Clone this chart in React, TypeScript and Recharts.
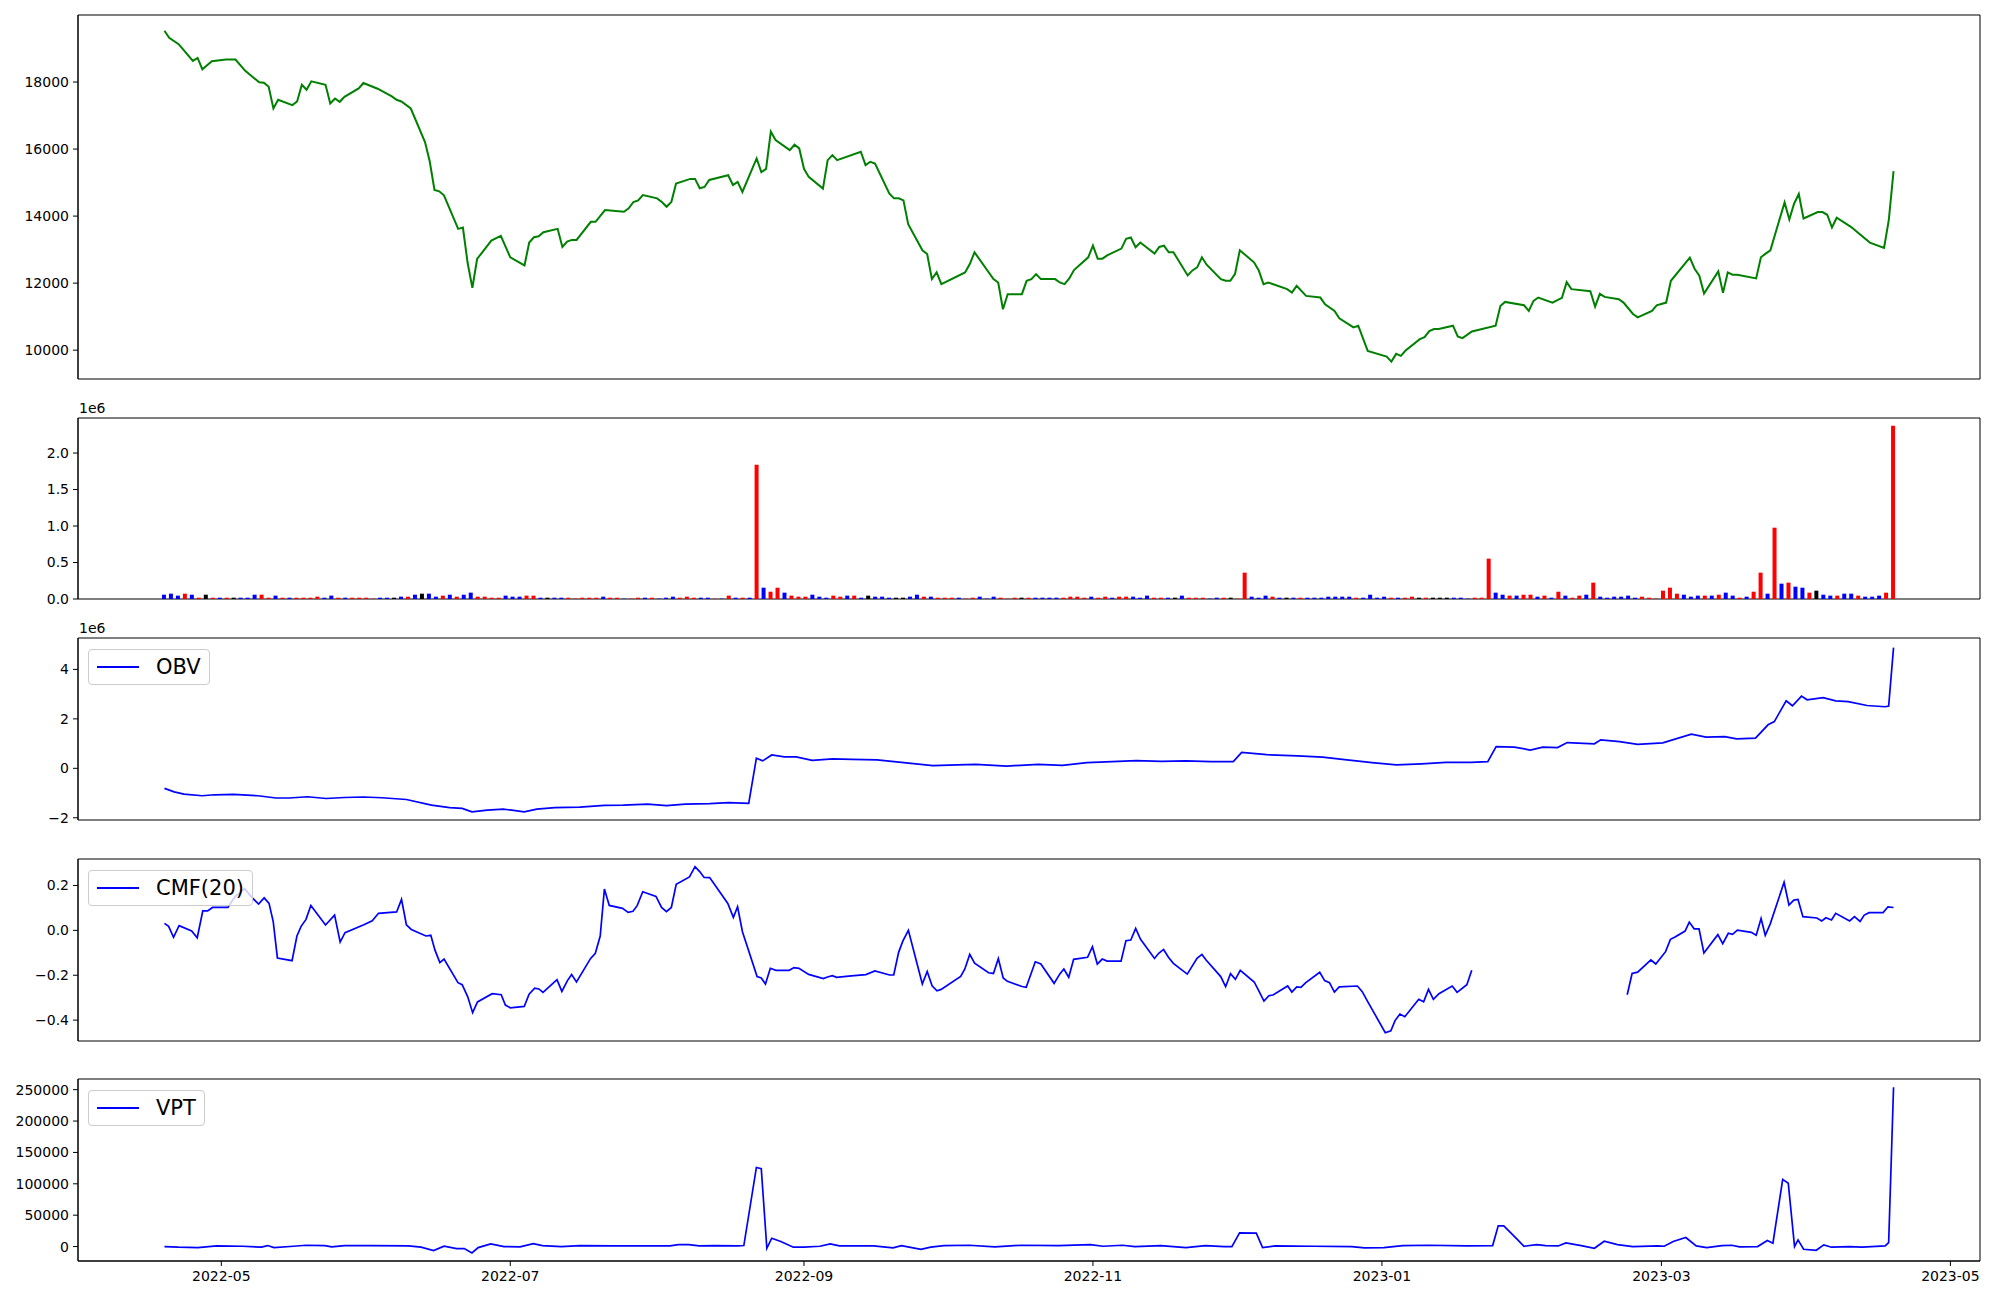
import React from 'react';
import { ComposedChart, Line, Bar, Cell, XAxis, YAxis, Legend, ReferenceArea } from 'recharts';

// closing prices (trading days where the line turns)
const priceDates = [
  '2022-04-19', '2022-04-20', '2022-04-22', '2022-04-25', '2022-04-26', '2022-04-27', '2022-04-29', '2022-05-02', '2022-05-04', '2022-05-06',
  '2022-05-09', '2022-05-10', '2022-05-11', '2022-05-12', '2022-05-13', '2022-05-16', '2022-05-17', '2022-05-18', '2022-05-19', '2022-05-20',
  '2022-05-23', '2022-05-24', '2022-05-25', '2022-05-26', '2022-05-27', '2022-05-30', '2022-05-31', '2022-06-03', '2022-06-06', '2022-06-07',
  '2022-06-08', '2022-06-10', '2022-06-13', '2022-06-14', '2022-06-15', '2022-06-16', '2022-06-17', '2022-06-20', '2022-06-21', '2022-06-22',
  '2022-06-23', '2022-06-24', '2022-06-27', '2022-06-29', '2022-07-01', '2022-07-04', '2022-07-05', '2022-07-06', '2022-07-07', '2022-07-08',
  '2022-07-11', '2022-07-12', '2022-07-13', '2022-07-14', '2022-07-15', '2022-07-18', '2022-07-19', '2022-07-21', '2022-07-25', '2022-07-26',
  '2022-07-27', '2022-07-28', '2022-07-29', '2022-08-01', '2022-08-02', '2022-08-03', '2022-08-04', '2022-08-05', '2022-08-08', '2022-08-09',
  '2022-08-10', '2022-08-11', '2022-08-12', '2022-08-16', '2022-08-17', '2022-08-18', '2022-08-19', '2022-08-22', '2022-08-23', '2022-08-24',
  '2022-08-25', '2022-08-26', '2022-08-29', '2022-08-30', '2022-08-31', '2022-09-01', '2022-09-02', '2022-09-05', '2022-09-06', '2022-09-07',
  '2022-09-08', '2022-09-13', '2022-09-14', '2022-09-15', '2022-09-16', '2022-09-19', '2022-09-20', '2022-09-21', '2022-09-22', '2022-09-23',
  '2022-09-26', '2022-09-27', '2022-09-28', '2022-09-29', '2022-09-30', '2022-10-05', '2022-10-06', '2022-10-07', '2022-10-11', '2022-10-12',
  '2022-10-13', '2022-10-14', '2022-10-17', '2022-10-18', '2022-10-19', '2022-10-20', '2022-10-21', '2022-10-24', '2022-10-25', '2022-10-26',
  '2022-10-27', '2022-10-28', '2022-10-31', '2022-11-01', '2022-11-02', '2022-11-03', '2022-11-04', '2022-11-07', '2022-11-08', '2022-11-09',
  '2022-11-10', '2022-11-11', '2022-11-14', '2022-11-15', '2022-11-16', '2022-11-17', '2022-11-18', '2022-11-21', '2022-11-22', '2022-11-23',
  '2022-11-24', '2022-11-25', '2022-11-28', '2022-11-29', '2022-11-30', '2022-12-01', '2022-12-02', '2022-12-05', '2022-12-06', '2022-12-07',
  '2022-12-08', '2022-12-12', '2022-12-13', '2022-12-14', '2022-12-16', '2022-12-19', '2022-12-20', '2022-12-22', '2022-12-23', '2022-12-26',
  '2022-12-27', '2022-12-29', '2023-01-02', '2023-01-03', '2023-01-04', '2023-01-05', '2023-01-06', '2023-01-09', '2023-01-10', '2023-01-11',
  '2023-01-12', '2023-01-13', '2023-01-16', '2023-01-17', '2023-01-18', '2023-01-20', '2023-01-25', '2023-01-26', '2023-01-27', '2023-01-31',
  '2023-02-01', '2023-02-02', '2023-02-03', '2023-02-06', '2023-02-08', '2023-02-09', '2023-02-10', '2023-02-14', '2023-02-15', '2023-02-16',
  '2023-02-17', '2023-02-20', '2023-02-21', '2023-02-23', '2023-02-24', '2023-02-27', '2023-02-28', '2023-03-02', '2023-03-03', '2023-03-07',
  '2023-03-08', '2023-03-09', '2023-03-10', '2023-03-13', '2023-03-14', '2023-03-15', '2023-03-16', '2023-03-17', '2023-03-21', '2023-03-22',
  '2023-03-23', '2023-03-24', '2023-03-27', '2023-03-28', '2023-03-29', '2023-03-30', '2023-03-31', '2023-04-03', '2023-04-04', '2023-04-05',
  '2023-04-06', '2023-04-07', '2023-04-10', '2023-04-14', '2023-04-17', '2023-04-18', '2023-04-19',
];

const priceClose = [
  19530, 19320, 19130, 18630, 18720, 18380, 18620, 18670, 18670, 18340,
  17990, 17980, 17860, 17210, 17470, 17310, 17420, 17920, 17770, 18020,
  17920, 17360, 17510, 17410, 17560, 17810, 17970, 17800, 17570, 17470,
  17420, 17210, 16210, 15630, 14780, 14740, 14620, 13620, 13660, 12600,
  11860, 12720, 13270, 13410, 12770, 12530, 13210, 13370, 13400, 13520,
  13620, 13080, 13240, 13290, 13290, 13830, 13830, 14180, 14130, 14230,
  14420, 14470, 14630, 14530, 14420, 14280, 14420, 14970, 15110, 15110,
  14830, 14870, 15080, 15220, 14930, 15020, 14720, 15720, 15310, 15410,
  16520, 16270, 15970, 16130, 16020, 15410, 15170, 14820, 15670, 15820,
  15670, 15920, 15520, 15620, 15570, 14680, 14530, 14530, 14470, 13760,
  12980, 12870, 12120, 12320, 11970, 12320, 12570, 12920, 12120, 12020,
  11220, 11670, 11670, 12070, 12120, 12270, 12120, 12120, 12020, 11970,
  12140, 12390, 12770, 13120, 12730, 12730, 12830, 13030, 13320, 13360,
  13070, 13210, 12880, 13080, 13120, 12920, 12920, 12230, 12380, 12470,
  12770, 12550, 12120, 12070, 12070, 12280, 12980, 12620, 12380, 11970,
  12020, 11820, 11720, 11920, 11620, 11570, 11370, 11170, 10950, 10680,
  10730, 9980, 9810, 9660, 9890, 9830, 9990, 10330, 10390, 10570,
  10630, 10630, 10730, 10410, 10360, 10560, 10730, 11320, 11440, 11340,
  11170, 11470, 11570, 11420, 11560, 12030, 11820, 11760, 11300, 11680,
  11590, 11520, 11420, 11080, 10980, 11170, 11340, 11420, 12070, 12760,
  12430, 12220, 11690, 12350, 11710, 12320, 12250, 12250, 12140, 12770,
  12880, 12980, 14410, 13900, 14370, 14660, 13930, 14120, 14120, 14040,
  13660, 13950, 13680, 13210, 13050, 13890, 15340,
];

// daily volume, one bar per trading day
const volume = [
  59000, 73000, 46000, 73000, 59000, 18000, 59000, 18000, 18000, 18000,
  18000, 18000, 18000, 59000, 59000, 18000, 46000, 18000, 18000, 18000,
  18000, 18000, 32000, 18000, 46000, 18000, 18000, 18000, 18000, 18000,
  5000, 18000, 18000, 18000, 32000, 32000, 59000, 73000, 73000, 32000,
  46000, 59000, 32000, 59000, 87000, 32000, 32000, 18000, 18000, 46000,
  32000, 32000, 46000, 46000, 18000, 18000, 18000, 18000, 18000, 6000,
  18000, 18000, 18000, 32000, 18000, 18000, 5000, 5000, 18000, 18000,
  18000, 5000, 18000, 32000, 18000, 32000, 18000, 18000, 18000, 5000,
  5000, 46000, 18000, 18000, 18000, 1840000, 155000, 100000, 155000, 87000,
  46000, 32000, 32000, 59000, 32000, 18000, 46000, 32000, 46000, 46000,
  18000, 46000, 32000, 32000, 18000, 18000, 18000, 32000, 59000, 32000,
  32000, 18000, 18000, 18000, 18000, 5000, 18000, 32000, 5000, 32000,
  18000, 5000, 18000, 18000, 18000, 18000, 18000, 18000, 18000, 18000,
  32000, 32000, 18000, 32000, 18000, 32000, 18000, 32000, 32000, 32000,
  18000, 46000, 18000, 18000, 18000, 18000, 46000, 18000, 18000, 18000,
  5000, 18000, 18000, 18000, 5000, 361000, 32000, 18000, 46000, 32000,
  18000, 18000, 18000, 18000, 18000, 18000, 18000, 32000, 32000, 32000,
  32000, 18000, 18000, 59000, 18000, 32000, 18000, 18000, 18000, 32000,
  18000, 18000, 18000, 18000, 18000, 18000, 18000, 5000, 18000, 18000,
  553000, 87000, 59000, 46000, 46000, 59000, 59000, 32000, 46000, 18000,
  100000, 46000, 18000, 46000, 59000, 224000, 32000, 18000, 32000, 32000,
  46000, 18000, 32000, 18000, 5000, 114000, 155000, 73000, 59000, 32000,
  46000, 46000, 46000, 59000, 87000, 46000, 18000, 32000, 100000, 361000,
  73000, 977000, 210000, 224000, 169000, 155000, 87000, 114000, 59000, 46000,
  46000, 73000, 73000, 46000, 32000, 32000, 46000, 87000, 2374000,
];

// r = up day, b = down day, k = unchanged
const volumeSide =
  'bbbrbrkrbr' + 'kbbbrrbrbr' + 'rrrbbrbrrr' + 'rbbkbrbkbb' + 'rbrbbrrrrb' +
  'bbrrbkbbrr' + 'rrrbrrbrrb' + 'rbbbrrrbbr' + 'brbrbrbrrb' + 'rrrbbbrrbr' +
  'bkbbbkkbbr' + 'brrrbrrbbb' + 'rrrkrbbbbr' + 'rrrbrrbrrb' + 'bbrrbkbrrr' +
  'bbrkrrbbbr' + 'bkbrbbbbbb' + 'brbbbbrbrr' + 'krkkkbbbrr' + 'rbbrbrrbrb' +
  'rbrrbrbbbb' + 'bbrrrrrrbb' + 'brbrbbrbrr' + 'brbrbbrkbb' + 'rbbrbbbrr';

// [trading-day index, OBV in millions]
const obvPoints: [number, number][] = [
  [0, -0.81], [1.4, -0.95], [2.8, -1.04], [5.4, -1.11], [7.2, -1.07], [9.9, -1.05], [13.4, -1.11], [16, -1.2],
  [17.9, -1.2], [20.5, -1.15], [23.2, -1.22], [25.8, -1.18], [28.5, -1.16], [31.2, -1.19], [34.7, -1.26], [38.3, -1.49],
  [40.9, -1.59], [42.7, -1.62], [44.1, -1.76], [46.3, -1.69], [48.6, -1.65], [51.6, -1.76], [53.4, -1.65], [56, -1.59],
  [59.6, -1.57], [63.1, -1.5], [65.8, -1.49], [69.3, -1.45], [72, -1.51], [74.7, -1.45], [78.2, -1.43], [80.9, -1.39],
  [83.8, -1.42], [84.9, 0.41], [85.8, 0.3], [87.1, 0.54], [88.9, 0.46], [90.6, 0.46], [92.9, 0.32], [95.9, 0.38],
  [98.6, 0.36], [102.2, 0.34], [105.7, 0.24], [110.2, 0.11], [113.7, 0.14], [116.4, 0.16], [120.8, 0.09], [125.3, 0.16],
  [128.8, 0.12], [132.3, 0.23], [135.9, 0.27], [139.4, 0.31], [143, 0.28], [146.5, 0.3], [150.1, 0.27], [153.3, 0.27],
  [154.5, 0.64], [158.1, 0.55], [162.5, 0.5], [166.1, 0.45], [169.6, 0.34], [173.2, 0.23], [176.7, 0.14], [180.3, 0.18],
  [183.8, 0.24], [187.4, 0.24], [189.8, 0.27], [191, 0.88], [193.6, 0.86], [195.9, 0.74], [197.7, 0.86], [199.8, 0.84],
  [201.2, 1.04], [205.1, 0.99], [206, 1.15], [208.7, 1.08], [211.3, 0.97], [214.9, 1.03], [219, 1.38], [221.1, 1.26],
  [223.8, 1.28], [225.5, 1.19], [228.2, 1.22], [230, 1.76], [230.9, 1.89], [232.6, 2.73], [233.5, 2.53], [234.8, 2.92],
  [235.6, 2.77], [237.9, 2.86], [239.7, 2.73], [241.5, 2.7], [244.2, 2.54], [246.8, 2.49], [247.3, 2.52], [248, 4.88],
];

// [trading-day index, CMF(20)]; null = no value
const cmfPoints: [number, number | null][] = [
  [0, 0.031], [0.6, 0.018], [1.3, -0.031], [2.1, 0.021], [3.9, -0.003], [4.7, -0.033], [5.5, 0.087], [6.2, 0.087],
  [6.9, 0.102], [9.1, 0.102], [10.1, 0.15], [11.5, 0.186], [12.6, 0.145], [13.5, 0.117], [14.3, 0.145], [15, 0.12],
  [15.6, 0.039], [16.2, -0.123], [18.3, -0.135], [19, -0.025], [19.6, 0.018], [20.3, 0.049], [21, 0.111], [23.1, 0.024],
  [24.4, 0.068], [25.2, -0.052], [25.9, -0.01], [28.6, 0.025], [29.8, 0.043], [30.7, 0.076], [33.3, 0.082], [34, 0.138],
  [34.7, 0.025], [35.4, 0.004], [37.5, -0.025], [38.2, -0.022], [38.8, -0.088], [39.5, -0.144], [40.1, -0.128], [42.1, -0.233],
  [42.7, -0.242], [43.5, -0.296], [44.2, -0.367], [44.9, -0.319], [47, -0.282], [48.3, -0.287], [48.9, -0.333], [49.6, -0.345],
  [51.6, -0.339], [52.3, -0.284], [53.1, -0.258], [53.7, -0.261], [54.3, -0.276], [56.3, -0.22], [57, -0.272], [57.8, -0.224],
  [58.4, -0.197], [59.1, -0.23], [61.1, -0.126], [61.8, -0.102], [62.5, -0.025], [63.1, 0.184], [63.8, 0.111], [65.7, 0.098],
  [66.5, 0.08], [67.2, 0.085], [67.8, 0.11], [68.6, 0.172], [70.5, 0.151], [71.3, 0.102], [72, 0.083], [72.7, 0.102],
  [73.4, 0.205], [75.3, 0.238], [76.1, 0.284], [76.8, 0.261], [77.4, 0.236], [78.2, 0.235], [80.8, 0.12], [81.6, 0.058],
  [82.2, 0.105], [82.9, -0.006], [85, -0.206], [85.6, -0.212], [86.2, -0.239], [86.9, -0.169], [87.7, -0.178], [89.6, -0.178],
  [90.3, -0.166], [91, -0.169], [92.4, -0.196], [94.5, -0.215], [95.1, -0.208], [95.8, -0.202], [96.4, -0.209], [98.5, -0.203],
  [100.6, -0.197], [101.9, -0.181], [104, -0.199], [104.6, -0.199], [105.3, -0.098], [105.9, -0.048], [106.7, 0], [108.7, -0.239],
  [109.4, -0.183], [110.1, -0.247], [110.8, -0.269], [111.4, -0.263], [114.2, -0.205], [114.8, -0.172], [115.5, -0.107], [116.2, -0.146],
  [118.2, -0.189], [118.9, -0.192], [119.6, -0.126], [120.3, -0.212], [120.9, -0.227], [123, -0.25], [123.6, -0.254], [124.9, -0.14],
  [125.7, -0.15], [127.6, -0.236], [128.4, -0.195], [129, -0.172], [129.7, -0.209], [130.4, -0.129], [132.4, -0.12], [133.1, -0.073],
  [133.8, -0.15], [134.5, -0.128], [135.2, -0.137], [137.2, -0.137], [137.9, -0.046], [138.6, -0.043], [139.3, 0.009], [140, -0.04],
  [142, -0.125], [142.6, -0.102], [143.3, -0.085], [144, -0.12], [144.7, -0.147], [146.7, -0.195], [148.1, -0.125], [148.8, -0.107],
  [149.4, -0.132], [151.5, -0.206], [152.2, -0.251], [152.9, -0.193], [153.6, -0.218], [154.3, -0.178], [156.3, -0.23], [157, -0.272],
  [157.7, -0.315], [158.4, -0.291], [159, -0.288], [161.1, -0.248], [161.7, -0.275], [162.4, -0.252], [163, -0.254], [163.7, -0.233],
  [165.7, -0.187], [166.4, -0.224], [167.1, -0.233], [167.8, -0.275], [168.5, -0.252], [171.1, -0.248], [171.8, -0.273], [172.5, -0.313],
  [175.1, -0.456], [175.9, -0.448], [176.5, -0.402], [177.2, -0.373], [177.9, -0.385], [179.9, -0.307], [180.6, -0.318], [181.3, -0.263],
  [182, -0.307], [182.8, -0.282], [184.7, -0.248], [185.4, -0.276], [186.8, -0.242], [187.5, -0.178], [198, null],
  [209.8, -0.287], [210.5, -0.192], [211.3, -0.186], [213.2, -0.132], [213.9, -0.15], [215.3, -0.095], [216, -0.04], [216.6, -0.031],
  [218.1, -0.003], [218.7, 0.037], [219.4, 0.007], [220.1, 0.007], [220.8, -0.101], [222.8, -0.019], [223.5, -0.059], [224.3, -0.013],
  [224.9, -0.018], [225.6, 0.001], [227.6, -0.009], [228.3, -0.022], [229, 0.053], [229.6, -0.022], [230.3, 0.028], [232.3, 0.214],
  [233, 0.113], [233.7, 0.135], [234.3, 0.138], [235, 0.061], [237, 0.055], [237.7, 0.042], [238.3, 0.056], [239.1, 0.046],
  [239.7, 0.076], [241.7, 0.042], [242.4, 0.061], [243.2, 0.04], [243.8, 0.068], [244.5, 0.079], [246.5, 0.079], [247.2, 0.105],
  [248, 0.102],
];

// [trading-day index, VPT]
const vptPoints: [number, number][] = [
  [0, 0], [2, -1000], [4.8, -1600], [7.5, 1000], [11.2, 500], [13.9, -1000], [14.8, 1600], [15.7, -1600],
  [18.5, 500], [20.3, 2100], [23, 1600], [24, -500], [25.8, 1600], [29.5, 1600], [35, 1000], [36.8, -1000],
  [38.6, -6400], [40.1, 500], [41.9, -3200], [43, -3200], [44.1, -10100], [45, -1600], [46.8, 4300], [48.7, 0],
  [51, -500], [52.9, 4800], [54.2, 1600], [56.9, 0], [59.6, 1600], [64.2, 1000], [72.5, 1000], [73.7, 3200],
  [75.2, 3200], [76.7, 1000], [78.9, 1600], [82.2, 1000], [83.1, 1600], [84.9, 126000], [85.6, 124000], [86.4, -2700],
  [87.1, 13300], [88.4, 8000], [90.2, -1000], [91.7, -1000], [94, 500], [95.5, 4300], [96.8, 1000], [101.7, 1000],
  [104.5, -2100], [105.7, 1600], [108.5, -4300], [109.9, -1000], [111.8, 1600], [115.4, 2100], [119.1, -500], [122.8, 2100],
  [128.2, 1600], [132.8, 3200], [134.6, 500], [137.4, 2100], [139.2, 0], [142.9, 1600], [146.5, -1600], [149.3, 1600],
  [152, 0], [153.1, 0], [154.2, 21800], [156.6, 21300], [157.5, -1600], [159.3, 1000], [164.8, 500], [170.3, 0],
  [172.1, -2100], [174.9, -1600], [177.6, 1600], [181.3, 2100], [186.8, 1000], [190.5, 1600], [191.3, 33000], [192.1, 33000],
  [194.1, 10600], [195, 500], [196.8, 3200], [198.1, 1600], [199.9, 1000], [201, 5900], [203.2, 1600], [205.1, -2700],
  [206.5, 8500], [208.4, 3200], [210.6, 0], [214.2, 1000], [215.1, 500], [216.4, 8000], [218.2, 14400], [219.7, 1000],
  [221.2, -1600], [223.4, 1600], [224.8, 2100], [225.9, -500], [228.5, 0], [229.9, 9600], [230.7, 5300], [232.1, 107000],
  [232.9, 101000], [233.8, 0], [234.3, 10600], [235.1, -4300], [236.9, -5900], [238, 2700], [239.1, -1000], [241.7, 0],
  [243.5, -1000], [246.8, 1000], [247.3, 6400], [248, 254000],
];

const monthTicks = ['2022-05-01', '2022-07-01', '2022-09-01', '2022-11-01', '2023-01-01', '2023-03-01', '2023-05-01'];

const DAY = 86400000;
const ORIGIN = Date.UTC(2022, 3, 1);
const dayOf = (s: string) => (Date.UTC(+s.slice(0, 4), +s.slice(5, 7) - 1, +s.slice(8, 10)) - ORIGIN) / DAY;
const monthLabel = (d: number) => new Date(ORIGIN + Math.round(d) * DAY).toISOString().slice(0, 7);

const START = dayOf(priceDates[0]);
const END = dayOf(priceDates[priceDates.length - 1]);
const STEP = (END - START) / (volume.length - 1);
const atIndex = (p: number) => START + p * STEP;
const X_DOMAIN: [number, number] = [START - 18.25, END + 18.25];

const SIDE_COLOR: Record<string, string> = { r: '#ff0000', b: '#0000ff', k: '#000000' };
const FONT = 'DejaVu Sans, sans-serif';
const tickFont = { fill: '#000', fontSize: 14, fontFamily: FONT };
const spine = { stroke: '#000', strokeWidth: 1 };
const minus = (s: string) => s.replace('-', '\u2212');

const priceData = priceDates.map((s, k) => ({ x: dayOf(s), y: priceClose[k] }));
const volData = volume.map((v, i) => ({ x: atIndex(i), y: v, side: volumeSide[i] }));
const obvData = obvPoints.map(([p, v]) => ({ x: atIndex(p), y: v }));
const cmfData = cmfPoints.map(([p, v]) => ({ x: atIndex(p), y: v }));
const vptData = vptPoints.map(([p, v]) => ({ x: atIndex(p), y: v }));

const LegendBox = ({ label }: { label: string }) => (
  <div
    style={{
      display: 'inline-flex',
      alignItems: 'center',
      padding: '5px 8px',
      border: '1px solid #cccccc',
      borderRadius: 4,
      background: 'rgba(255,255,255,0.8)',
      fontFamily: FONT,
      fontSize: 21,
      lineHeight: '24px',
      color: '#000',
      whiteSpace: 'nowrap',
    }}
  >
    <span style={{ display: 'inline-block', width: 42, borderTop: '2px solid #0000ff', marginRight: 17 }} />
    <span>{label}</span>
  </div>
);

type PanelProps = {
  top: number;
  height: number;
  data: object[];
  yDomain: [number, number];
  yTicks: number[];
  yFormat: (v: number) => string;
  dates?: boolean;
  legend?: string;
  children: React.ReactNode;
};

const PAD = 12;

const Panel = ({ top, height, data, yDomain, yTicks, yFormat, dates, legend, children }: PanelProps) => {
  const axisH = dates ? 40 : 0;
  return (
    <div style={{ position: 'absolute', left: 0, top: top - PAD }}>
      <ComposedChart width={2000} height={height + 2 * PAD + axisH} data={data} margin={{ top: PAD, right: 20, bottom: PAD, left: 0 }}>
        <XAxis
          dataKey="x"
          type="number"
          domain={X_DOMAIN}
          allowDataOverflow
          ticks={dates ? monthTicks.map(dayOf) : []}
          interval={0}
          tickFormatter={monthLabel}
          tick={dates ? tickFont : false}
          tickLine={dates ? { stroke: '#000' } : false}
          tickSize={5}
          tickMargin={5}
          height={axisH}
          axisLine={spine}
        />
        <YAxis
          type="number"
          domain={yDomain}
          allowDataOverflow
          ticks={yTicks}
          interval={0}
          tickFormatter={yFormat}
          width={78}
          tick={tickFont}
          tickLine={{ stroke: '#000' }}
          tickSize={5}
          tickMargin={4}
          axisLine={spine}
        />
        {children}
        <ReferenceArea
          x1={X_DOMAIN[0]}
          x2={X_DOMAIN[1]}
          y1={yDomain[0]}
          y2={yDomain[1]}
          fill="none"
          fillOpacity={0}
          stroke="#000"
          strokeWidth={1}
          ifOverflow="visible"
        />
        {legend && (
          <Legend
            layout="horizontal"
            verticalAlign="middle"
            align="center"
            wrapperStyle={{ left: 88, top: PAD + 11, width: 'auto' }}
            content={() => <LegendBox label={legend} />}
          />
        )}
      </ComposedChart>
    </div>
  );
};

const offsetText = (top: number) => (
  <div style={{ position: 'absolute', left: 79, top, fontFamily: FONT, fontSize: 14, lineHeight: '16px', color: '#000' }}>1e6</div>
);

export default function App() {
  return (
    <div style={{ position: 'absolute', left: 0, top: 0, width: 2000, height: 1300, background: '#fff', overflow: 'hidden' }}>
      <Panel top={15} height={364} data={priceData} yDomain={[9140, 20000]} yTicks={[10000, 12000, 14000, 16000, 18000]} yFormat={(v) => String(v)}>
        <Line dataKey="y" stroke="#008000" strokeWidth={2} dot={false} activeDot={false} isAnimationActive={false} />
      </Panel>

      <Panel top={418} height={181} data={volData} yDomain={[0, 2480000]} yTicks={[0, 500000, 1000000, 1500000, 2000000]} yFormat={(v) => (v / 1e6).toFixed(1)}>
        <Bar dataKey="y" barSize={4} isAnimationActive={false}>
          {volData.map((e, i) => (
            <Cell key={`vol-${i}`} fill={SIDE_COLOR[e.side]} />
          ))}
        </Bar>
      </Panel>

      <Panel top={638} height={182} data={obvData} yDomain={[-2.09, 5.27]} yTicks={[-2, 0, 2, 4]} yFormat={(v) => minus(String(v))} legend="OBV">
        <Line dataKey="y" name="OBV" stroke="#0000ff" strokeWidth={1.7} dot={false} activeDot={false} isAnimationActive={false} />
      </Panel>

      <Panel top={859} height={182} data={cmfData} yDomain={[-0.493, 0.318]} yTicks={[-0.4, -0.2, 0, 0.2]} yFormat={(v) => minus(v.toFixed(1))} legend="CMF(20)">
        <Line dataKey="y" name="CMF(20)" stroke="#0000ff" strokeWidth={1.7} dot={false} activeDot={false} connectNulls={false} isAnimationActive={false} />
      </Panel>

      <Panel top={1079} height={182} data={vptData} yDomain={[-23000, 267000]} yTicks={[0, 50000, 100000, 150000, 200000, 250000]} yFormat={(v) => String(v)} dates legend="VPT">
        <Line dataKey="y" name="VPT" stroke="#0000ff" strokeWidth={1.7} dot={false} activeDot={false} isAnimationActive={false} />
      </Panel>

      {offsetText(400)}
      {offsetText(620)}
    </div>
  );
}
